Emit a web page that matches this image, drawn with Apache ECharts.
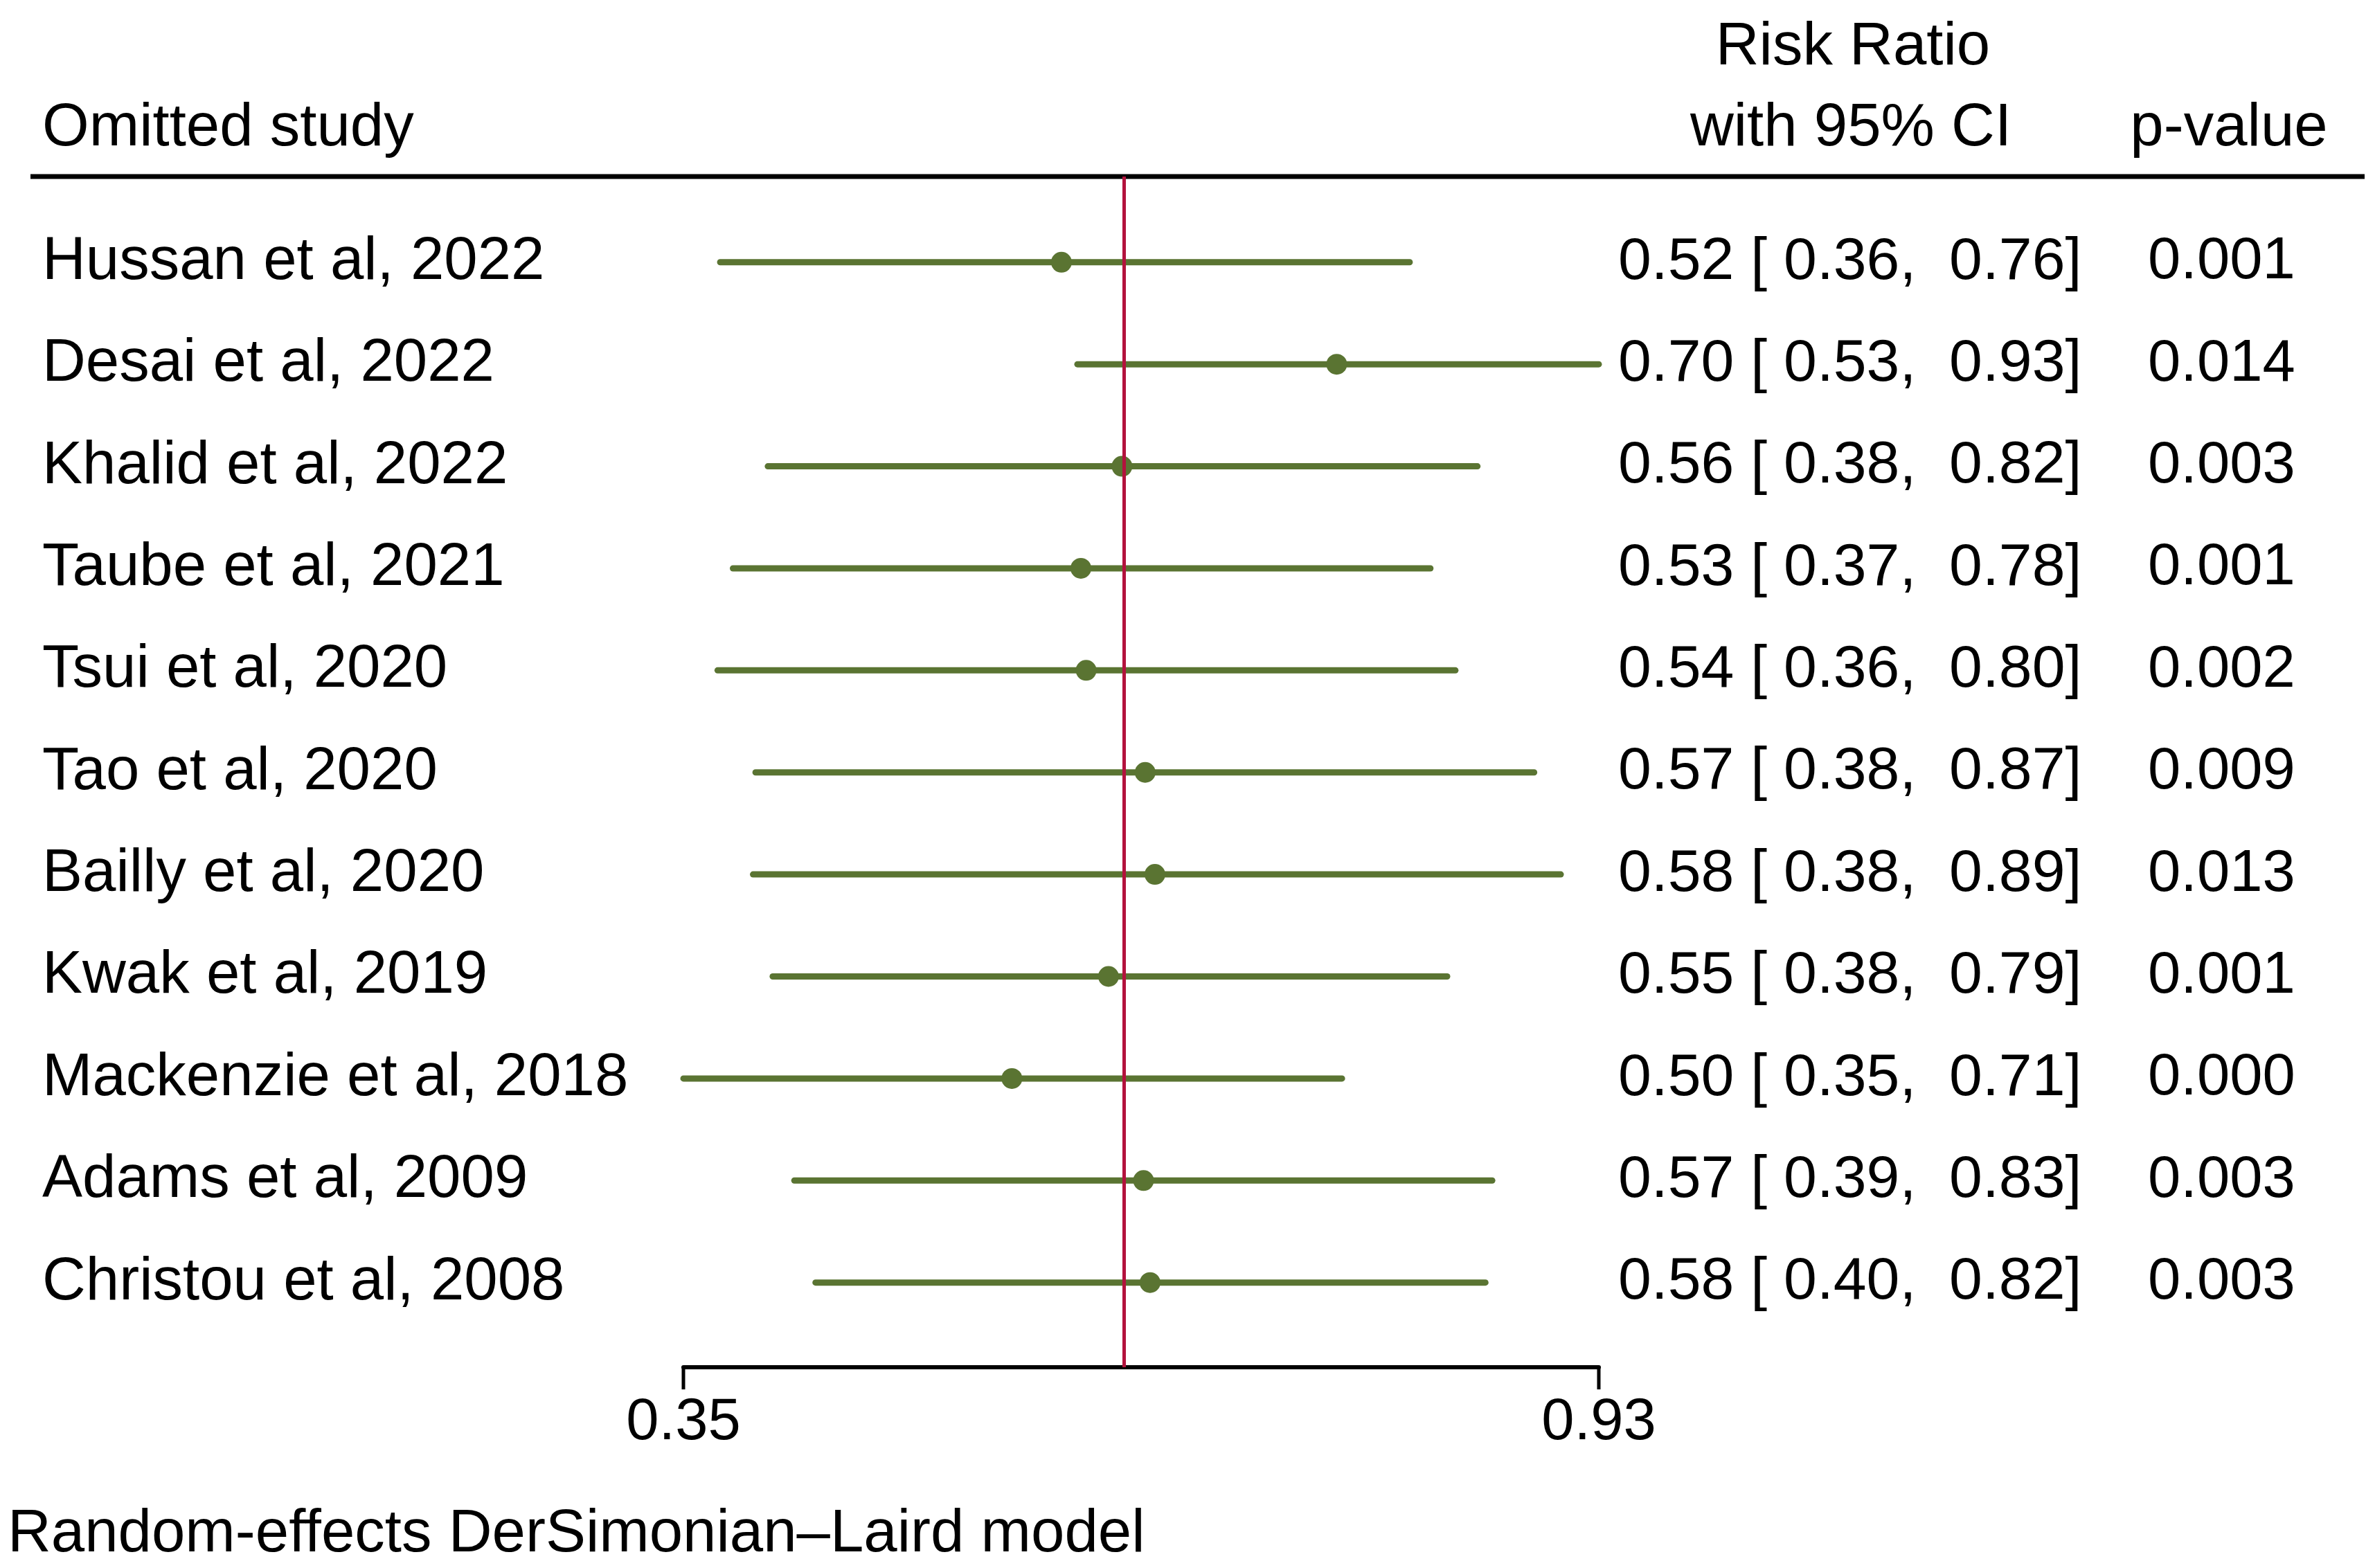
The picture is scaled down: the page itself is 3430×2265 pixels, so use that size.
<!DOCTYPE html>
<html>
<head>
<meta charset="utf-8">
<script src="https://cdn.jsdelivr.net/npm/echarts@6/dist/echarts.min.js"></script>
<style>
html,body{margin:0;padding:0;background:#fff;}
#c{width:3430px;height:2265px;}
</style>
</head>
<body>
<div id="c"></div>
<script>
// ---- data ----
const studies = [
  'Hussan et al, 2022', 'Desai et al, 2022', 'Khalid et al, 2022', 'Taube et al, 2021',
  'Tsui et al, 2020', 'Tao et al, 2020', 'Bailly et al, 2020', 'Kwak et al, 2019',
  'Mackenzie et al, 2018', 'Adams et al, 2009', 'Christou et al, 2008'
];
const rr     = [0.524, 0.703, 0.559, 0.535, 0.538, 0.573, 0.579, 0.551, 0.497, 0.572, 0.576];
const ciLow  = [0.364, 0.533, 0.383, 0.369, 0.363, 0.378, 0.377, 0.385, 0.350, 0.394, 0.403];
const ciHigh = [0.760, 0.930, 0.817, 0.777, 0.798, 0.868, 0.893, 0.791, 0.707, 0.830, 0.824];
const ciText = [
  '0.52 [ 0.36,  0.76]', '0.70 [ 0.53,  0.93]', '0.56 [ 0.38,  0.82]', '0.53 [ 0.37,  0.78]',
  '0.54 [ 0.36,  0.80]', '0.57 [ 0.38,  0.87]', '0.58 [ 0.38,  0.89]', '0.55 [ 0.38,  0.79]',
  '0.50 [ 0.35,  0.71]', '0.57 [ 0.39,  0.83]', '0.58 [ 0.40,  0.82]'
];
const pValues = ['0.001', '0.014', '0.003', '0.001', '0.002', '0.009', '0.013', '0.001', '0.000', '0.003', '0.003'];
const overall = 0.563;
const axisTicks = [0.35, 0.93];
const axisTickLabels = ['0.35', '0.93'];

// ---- styles ----
const FONT = 'Liberation Sans, Arial, sans-serif';
const FS_TXT = 87;
const FS_NUM = 86;
const FS_P = 85;
const GREEN = '#5A7432';
const RED = '#B3123D';
const Y_MIN = 0.16, Y_MAX = 11.83;

const rowIdx = studies.map((s, i) => i + 1);

const yBase = {
  type: 'value', inverse: true, min: Y_MIN, max: Y_MAX,
  axisLine: { show: false }, axisTick: { show: false }, splitLine: { show: false }
};
function lab(extra) {
  return Object.assign({
    customValues: rowIdx, fontFamily: FONT, color: '#000', align: 'left',
    verticalAlign: 'middle', padding: [8, 0, 0, 0]
  }, extra);
}
function hdr(x, y, text, align) {
  return { type: 'text', x: x, y: y, style: { text: text, fontSize: FS_TXT, fontFamily: FONT, fill: '#000', align: align, verticalAlign: 'middle' } };
}

const chart = echarts.init(document.getElementById('c'), null, { renderer: 'canvas' });
chart.setOption({
  backgroundColor: '#fff',
  animation: false,
  grid: { left: 987, top: 255, width: 1322, height: 1720, containLabel: false },
  xAxis: {
    type: 'log', logBase: 10, min: 0.35, max: 0.93, position: 'bottom',
    axisLine: { show: true, lineStyle: { color: '#000', width: 6 } },
    axisTick: { show: false }, axisLabel: { show: false }, splitLine: { show: false }, minorTick: { show: false }
  },
  yAxis: [
    Object.assign({}, yBase, { position: 'left',
      axisLabel: lab({ fontSize: FS_TXT, margin: 926, formatter: v => studies[Math.round(v) - 1] || '' }) }),
    Object.assign({}, yBase, { position: 'right',
      axisLabel: lab({ fontSize: FS_NUM, margin: 28, formatter: v => ciText[Math.round(v) - 1] || '' }) }),
    Object.assign({}, yBase, { position: 'right',
      axisLabel: lab({ fontSize: FS_P, margin: 793, formatter: v => pValues[Math.round(v) - 1] || '' }) })
  ],
  graphic: [
    hdr(61, 186, 'Omitted study', 'left'),
    hdr(2676, 69, 'Risk Ratio', 'center'),
    hdr(2673, 186, 'with 95% CI', 'center'),
    hdr(3219, 186, 'p-value', 'center'),
    { type: 'line', shape: { x1: 44, y1: 255, x2: 3415, y2: 255 }, style: { stroke: '#000', lineWidth: 7 } },
    hdr(11, 2217, 'Random-effects DerSimonian\u2013Laird model', 'left')
  ],
  series: [
    {
      type: 'custom', name: 'ci', z: 2, clip: false,
      data: studies.map((s, i) => [ciLow[i], ciHigh[i], i + 1]),
      encode: { x: [0, 1], y: 2 },
      renderItem: function (params, api) {
        const a = api.coord([api.value(0), api.value(2)]);
        const b = api.coord([api.value(1), api.value(2)]);
        return { type: 'line', shape: { x1: a[0], y1: a[1], x2: b[0], y2: b[1] },
          style: { stroke: GREEN, lineWidth: 9, lineCap: 'round' } };
      },
      markLine: {
        silent: true, symbol: 'none', animation: false,
        label: { show: false },
        lineStyle: { color: RED, width: 5, type: 'solid', opacity: 1 },
        data: [{ xAxis: overall }]
      }
    },
    {
      type: 'scatter', name: 'rr', z: 3,
      symbol: 'circle', symbolSize: 30,
      itemStyle: { color: GREEN, opacity: 1 },
      data: studies.map((s, i) => [rr[i], i + 1])
    },
    {
      type: 'custom', name: 'ticks', z: 4, clip: false, silent: true,
      data: axisTicks.map((v, i) => [v, Y_MAX, i]),
      encode: { x: 0, y: 1 },
      renderItem: function (params, api) {
        const p = api.coord([api.value(0), api.value(1)]);
        const idx = api.value(2);
        return { type: 'group', children: [
          { type: 'line', shape: { x1: p[0], y1: p[1], x2: p[0], y2: p[1] + 32 },
            style: { stroke: '#000', lineWidth: 5 } },
          { type: 'text', x: p[0], y: p[1] + 81,
            style: { text: axisTickLabels[idx], fontSize: FS_P, fontFamily: FONT, fill: '#000', align: 'center', verticalAlign: 'middle' } }
        ] };
      }
    }
  ]
});
</script>
</body>
</html>
